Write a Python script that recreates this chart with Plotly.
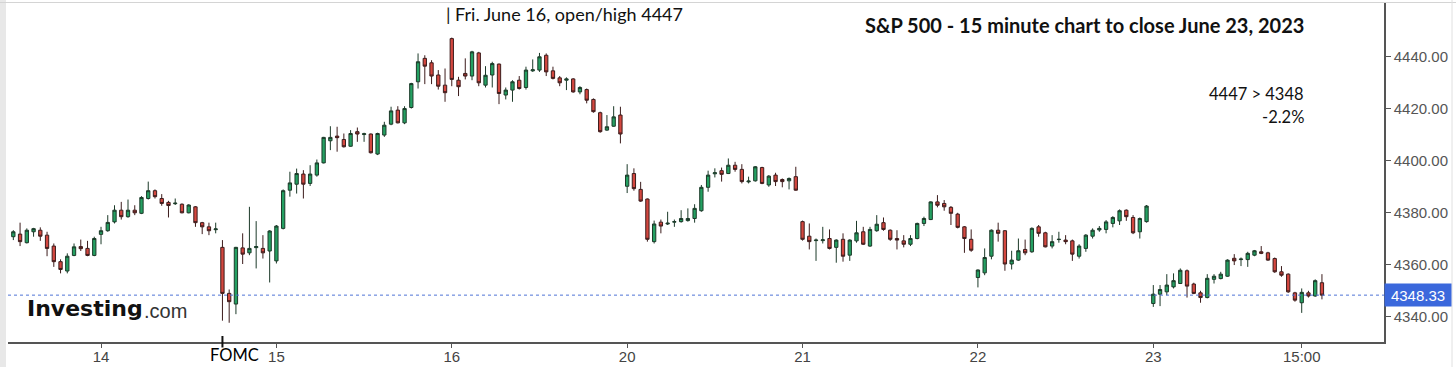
import plotly.graph_objects as go

# ---------------- data (S&P 500, 15-minute bars) ----------------
days = ["2023-06-13", "2023-06-14", "2023-06-15", "2023-06-16",
        "2023-06-20", "2023-06-21", "2023-06-22", "2023-06-23"]
first_day_first_slot = 13   # chart starts 12:45 on June 13

open_ = [
    4370.8,4371.8,4368.5,4372.7,4373.3,4371.4,4367.2,4361.2,4357.6,4363.6,4367.0,4366.3,4363.6,
    4371.7,4373.1,4376.5,4381.0,4378.5,4381.0,4379.8,4385.5,4388.5,4385.5,4384.0,4383.5,4383.3,4380.0,4382.3,4376.2,4374.6,4373.5,4366.7,4349.0,4344.9,4366.5,4364.6,4366.6,4366.3,4365.3,
    4361.5,4374.0,4388.7,4391.0,4394.9,4391.3,4394.5,4399.2,4407.7,4409.5,4408.2,4405.6,4411.2,4410.1,4410.3,4402.6,4409.9,4414.1,4419.5,4414.6,4420.5,4430.4,4439.4,4437.7,4433.0,4429.1,
    4447.0,4431.0,4433.6,4432.6,4441.5,4429.1,4433.0,4437.2,4425.3,4427.2,4431.0,4428.2,4434.6,4434.9,4440.6,4434.6,4431.9,4431.0,4431.5,4426.5,4427.4,4423.6,4418.5,4411.8,4413.3,4417.6,
    4390.2,4395.1,4389.0,4385.3,4368.9,4376.4,4375.7,4376.4,4376.6,4377.0,4377.8,4380.8,4389.8,4395.0,4396.2,4395.1,4398.3,4396.7,4391.9,4392.3,4397.4,4390.7,4394.5,4392.8,4392.3,4393.9,
    4376.6,4371.0,4369.3,4369.3,4370.1,4366.7,4369.8,4363.7,4369.2,4372.7,4367.2,4373.1,4376.2,4373.3,4370.1,4369.2,4367.9,4370.1,4375.9,4377.4,4384.2,4383.6,4382.1,4379.5,4374.6,4369.8,
    4355.1,4356.9,4363.3,4373.3,4373.1,4360.3,4361.8,4365.9,4365.0,4374.6,4372.3,4367.2,4369.7,4369.5,4369.2,4363.3,4366.3,4371.0,4373.4,4373.6,4375.9,4376.9,4381.0,4378.2,4372.7,4376.6,
    4345.1,4348.7,4349.6,4351.5,4352.8,4357.7,4352.6,4349.2,4347.4,4354.4,4354.7,4355.6,4362.5,4362.0,4362.0,4363.7,4365.0,4364.6,4362.4,4357.3,4356.4,4349.2,4345.4,4349.2,4348.0,4353.1,
]
high = [
    4373.3,4376.2,4374.0,4374.2,4374.4,4372.7,4368.2,4362.1,4364.4,4368.2,4369.7,4369.2,4370.8,
    4374.6,4379.1,4382.9,4384.2,4385.1,4382.9,4386.4,4392.0,4389.0,4387.2,4384.6,4385.5,4383.6,4383.3,4382.6,4376.5,4376.2,4376.2,4369.5,4350.5,4366.9,4372.1,4382.3,4376.8,4371.4,4373.3,
    4375.3,4389.0,4395.8,4397.0,4396.4,4398.3,4400.5,4409.2,4413.3,4413.1,4410.5,4411.8,4412.8,4410.8,4410.5,4410.8,4415.0,4420.8,4421.0,4421.0,4430.0,4441.3,4440.6,4438.7,4434.9,4435.5,
    4447.4,4432.3,4439.4,4442.3,4441.9,4436.4,4438.1,4437.4,4428.2,4431.0,4432.6,4436.2,4439.0,4441.5,4441.3,4436.2,4432.6,4432.1,4431.8,4428.7,4427.8,4424.0,4418.9,4417.6,4421.0,4420.8,
    4398.7,4397.1,4391.9,4385.5,4377.0,4377.4,4380.4,4377.4,4381.0,4381.7,4383.3,4390.7,4396.2,4397.1,4397.4,4400.9,4399.6,4398.7,4393.9,4398.0,4397.7,4394.5,4395.4,4393.2,4393.6,4397.7,
    4377.0,4375.9,4370.1,4374.6,4373.6,4369.8,4372.1,4369.8,4376.9,4374.6,4374.6,4379.1,4378.2,4373.6,4373.3,4371.4,4371.4,4376.2,4378.5,4384.4,4386.8,4384.9,4382.6,4380.0,4374.9,4373.6,
    4358.2,4366.3,4373.6,4376.2,4373.3,4365.4,4370.1,4369.7,4374.4,4375.3,4372.7,4371.4,4372.7,4371.4,4369.7,4367.9,4371.8,4374.0,4374.9,4377.2,4378.7,4381.3,4381.3,4379.1,4378.2,4383.0,
    4352.2,4352.2,4356.4,4356.7,4358.6,4358.2,4353.1,4350.0,4356.4,4356.4,4357.3,4362.1,4364.1,4362.8,4365.0,4365.7,4367.2,4365.0,4362.8,4359.5,4356.7,4349.6,4350.9,4350.0,4354.4,4356.4,
]
low = [
    4369.5,4367.2,4368.2,4370.8,4369.2,4363.3,4359.2,4356.7,4356.7,4363.3,4365.3,4363.3,4363.3,
    4367.9,4372.7,4375.9,4377.4,4378.1,4379.1,4379.5,4385.1,4385.5,4382.7,4378.2,4383.0,4379.8,4379.8,4374.6,4371.8,4371.4,4372.1,4338.5,4337.7,4341.0,4360.3,4363.7,4358.6,4362.4,4353.2,
    4360.5,4373.6,4386.2,4387.4,4385.5,4390.3,4393.9,4399.0,4404.1,4403.5,4405.1,4405.4,4407.3,4407.3,4402.8,4402.2,4409.2,4413.7,4414.4,4414.1,4420.1,4427.8,4429.5,4429.5,4427.4,4422.7,
    4428.7,4424.9,4431.3,4431.0,4428.7,4428.2,4428.2,4421.8,4423.6,4422.7,4427.4,4427.4,4434.2,4434.2,4432.6,4431.3,4428.7,4427.2,4426.2,4425.6,4422.1,4418.5,4410.8,4411.5,4413.1,4406.7,
    4387.6,4388.5,4384.2,4368.9,4368.2,4372.1,4375.3,4374.6,4376.2,4376.6,4376.2,4380.4,4388.1,4393.6,4392.0,4394.9,4395.8,4391.3,4391.3,4392.0,4391.0,4390.0,4390.3,4389.8,4389.0,4388.5,
    4369.3,4365.9,4361.5,4368.2,4365.9,4360.8,4361.2,4361.5,4368.5,4367.6,4366.9,4372.7,4373.1,4369.2,4365.9,4366.7,4367.2,4369.8,4374.9,4377.2,4382.1,4380.8,4375.3,4374.0,4364.6,4365.0,
    4351.3,4356.0,4362.1,4368.9,4357.7,4358.2,4361.5,4363.7,4364.6,4370.8,4366.7,4366.3,4368.5,4367.9,4361.5,4362.4,4365.0,4370.1,4372.7,4372.1,4374.4,4375.3,4376.9,4371.8,4370.1,4376.2,
    4343.8,4344.1,4348.3,4350.9,4352.6,4347.4,4348.7,4345.4,4347.1,4352.8,4354.4,4355.4,4359.9,4359.5,4359.2,4363.3,4364.1,4361.5,4356.9,4355.4,4349.2,4345.8,4341.5,4347.4,4347.7,4346.7,
]
close = [
    4372.7,4368.9,4373.3,4373.9,4371.0,4366.3,4361.2,4358.2,4363.3,4366.9,4366.2,4363.6,4370.1,
    4373.1,4376.3,4381.0,4378.5,4381.0,4380.0,4385.9,4388.5,4386.2,4383.6,4382.8,4383.7,4380.0,4383.0,4376.2,4374.6,4373.1,4373.8,4349.0,4345.8,4366.7,4364.1,4366.3,4367.0,4364.6,4373.0,
    4374.9,4388.5,4391.5,4395.1,4391.0,4394.9,4399.2,4409.0,4409.0,4408.9,4405.4,4410.5,4410.3,4410.4,4403.1,4410.5,4413.7,4419.2,4414.6,4420.1,4429.7,4438.1,4436.4,4432.6,4428.7,4426.2,
    4431.3,4428.5,4432.6,4441.9,4430.0,4432.9,4437.4,4425.9,4427.2,4430.4,4427.8,4434.9,4435.0,4440.0,4434.2,4431.7,4430.0,4431.5,4426.5,4428.2,4423.3,4418.9,4411.2,4413.1,4416.9,4410.3,
    4394.5,4389.3,4384.5,4369.8,4375.7,4374.9,4376.0,4376.6,4377.8,4377.8,4381.7,4389.8,4394.5,4395.4,4394.8,4398.3,4396.7,4392.0,4392.2,4397.7,4391.3,4394.1,4392.0,4392.0,4393.2,4388.7,
    4369.8,4368.9,4369.5,4369.6,4366.3,4369.5,4363.3,4369.5,4372.3,4367.9,4373.6,4375.6,4373.6,4369.8,4369.5,4367.9,4370.1,4375.9,4377.8,4384.2,4382.9,4382.3,4379.8,4374.4,4370.1,4365.6,
    4358.0,4362.8,4373.3,4372.1,4360.3,4361.8,4365.4,4364.6,4374.0,4372.1,4366.9,4368.9,4369.8,4368.9,4364.1,4367.2,4371.4,4373.3,4374.0,4376.5,4378.2,4380.8,4378.5,4372.3,4377.8,4382.6,
    4348.7,4350.5,4352.2,4353.9,4357.9,4351.8,4349.0,4347.4,4354.8,4355.6,4356.4,4361.8,4361.5,4362.2,4364.4,4365.4,4364.4,4361.8,4357.3,4356.0,4349.6,4346.4,4349.4,4348.0,4353.9,4348.33,
]

tick_labels = ["14", "15", "16", "20", "21", "22", "23", "15:00"]
y_ticks = [4340, 4360, 4380, 4400, 4420, 4440]
last_price = close[-1]
fomc_time = "2023-06-14 14:00"

# ---------------- session time stamps ----------------
slots = []
for k in range(26):
    m = 9 * 60 + 30 + 15 * k
    slots.append(f"{m // 60:02d}:{m % 60:02d}")
times = []
for di, d in enumerate(days):
    start = first_day_first_slot if di == 0 else 0
    for s in slots[start:]:
        times.append(f"{d} {s}")
assert len(times) == len(close) == len(open_) == len(high) == len(low)

tick_vals = [f"{d} 09:30" for d in days[1:]] + ["2023-06-23 15:00"]
fomc_idx = times.index(fomc_time)

# ---------------- figure ----------------
W, H = 1456, 367
ML, MR, MT, MB = 8, 72, 3, 25
PW, PH = W - ML - MR, H - MT - MB


def px(xp):
    return (xp - ML) / PW


def py(yp):
    return (H - MB - yp) / PH


fig = go.Figure()
fig.add_trace(go.Candlestick(
    x=times, open=open_, high=high, low=low, close=close,
    increasing=dict(line=dict(color="#1c3a29", width=1), fillcolor="#24a062"),
    decreasing=dict(line=dict(color="#3c1c1c", width=1), fillcolor="#d4473f"),
    whiskerwidth=0, showlegend=False,
))

shapes = [
    # light frame
    dict(type="rect", xref="paper", yref="paper", x0=px(0), x1=px(6), y0=py(H), y1=py(0),
         fillcolor="#e8e8e8", line=dict(width=0), layer="below"),
    dict(type="line", xref="paper", yref="paper", x0=px(0), x1=px(W), y0=py(2.5), y1=py(2.5),
         line=dict(color="#d4d4d4", width=1)),
    dict(type="line", xref="paper", yref="paper", x0=px(1452), x1=px(1452), y0=py(H), y1=py(0),
         line=dict(color="#e0e0e0", width=1)),
    # last price dotted line
    dict(type="line", xref="paper", yref="y", x0=0, x1=1, y0=last_price, y1=last_price,
         line=dict(color="#4f74d6", width=1, dash="dot")),
    # FOMC marker tick
    dict(type="line", xref="x", yref="paper", x0=fomc_idx, x1=fomc_idx, y0=py(347.5), y1=py(336),
         line=dict(color="#111111", width=2)),
]

annotations = [
    dict(text="| Fri. June 16, open/high 4447", xref="paper", yref="paper",
         x=px(444), y=py(14), xanchor="left", yanchor="middle", showarrow=False,
         font=dict(family="Lato", size=18, color="#111111")),
    dict(text="<b>S&P 500 - 15 minute chart to close June 23, 2023</b>", xref="paper", yref="paper",
         x=px(1306), y=py(25), xanchor="right", yanchor="middle", showarrow=False,
         font=dict(family="Lato", size=20, color="#111111")),
    dict(text="4447 > 4348", xref="paper", yref="paper",
         x=px(1306), y=py(94), xanchor="right", yanchor="middle", showarrow=False,
         font=dict(family="Lato", size=16.5, color="#111111")),
    dict(text="-2.2%", xref="paper", yref="paper",
         x=px(1306), y=py(117), xanchor="right", yanchor="middle", showarrow=False,
         font=dict(family="Lato", size=16.5, color="#111111")),
    dict(text="FOMC", xref="x", yref="paper", x=fomc_idx, y=py(355), xanchor="left", xshift=-14,
         yanchor="middle", showarrow=False,
         font=dict(family="Lato", size=16.5, color="#000000")),
    dict(text="<b>Investing</b>", xref="paper", yref="paper", x=px(25), y=py(308),
         xanchor="left", yanchor="middle", showarrow=False,
         font=dict(family="DejaVu Sans", size=22, color="#111111")),
    dict(text=".com", xref="paper", yref="paper", x=px(142), y=py(311),
         xanchor="left", yanchor="middle", showarrow=False,
         font=dict(family="Liberation Sans, Arial", size=20, color="#333333")),
    dict(text=f"{last_price:.2f}", xref="paper", yref="y", x=1, y=last_price,
         xanchor="left", yanchor="middle", showarrow=False, bgcolor="#3b68dc",
         width=62, height=18, borderpad=2, align="center",
         font=dict(family="Liberation Sans, Arial", size=15, color="#ffffff")),
]

fig.update_layout(
    width=W, height=H, autosize=False,
    margin=dict(l=ML, r=MR, t=MT, b=MB, pad=0, autoexpand=False),
    paper_bgcolor="#ffffff", plot_bgcolor="#ffffff",
    shapes=shapes, annotations=annotations,
    xaxis=dict(
        type="category", range=[-0.79, 203.2], rangeslider=dict(visible=False),
        tickmode="array", tickvals=tick_vals, ticktext=tick_labels, automargin=False,
        showgrid=False, zeroline=False, showline=True, linecolor="#555555", linewidth=1.5,
        ticks="outside", ticklen=4, tickcolor="#555555", ticklabelstandoff=-4,
        tickfont=dict(family="Liberation Sans, Arial", size=15, color="#444444"),
    ),
    yaxis=dict(
        side="right", range=[4330.3, 4460.7], tickvals=y_ticks, tickformat=".2f",
        automargin=False,
        showgrid=False, zeroline=False, showline=True, linecolor="#555555", linewidth=1.5,
        ticks="outside", ticklen=5, tickcolor="#555555",
        tickfont=dict(family="Liberation Sans, Arial", size=15, color="#555555"),
    ),
)

fig.write_html(
    "out.html",
    config={"displayModeBar": False},
    post_script="document.body.style.margin='0';document.body.style.overflow='hidden';",
)
